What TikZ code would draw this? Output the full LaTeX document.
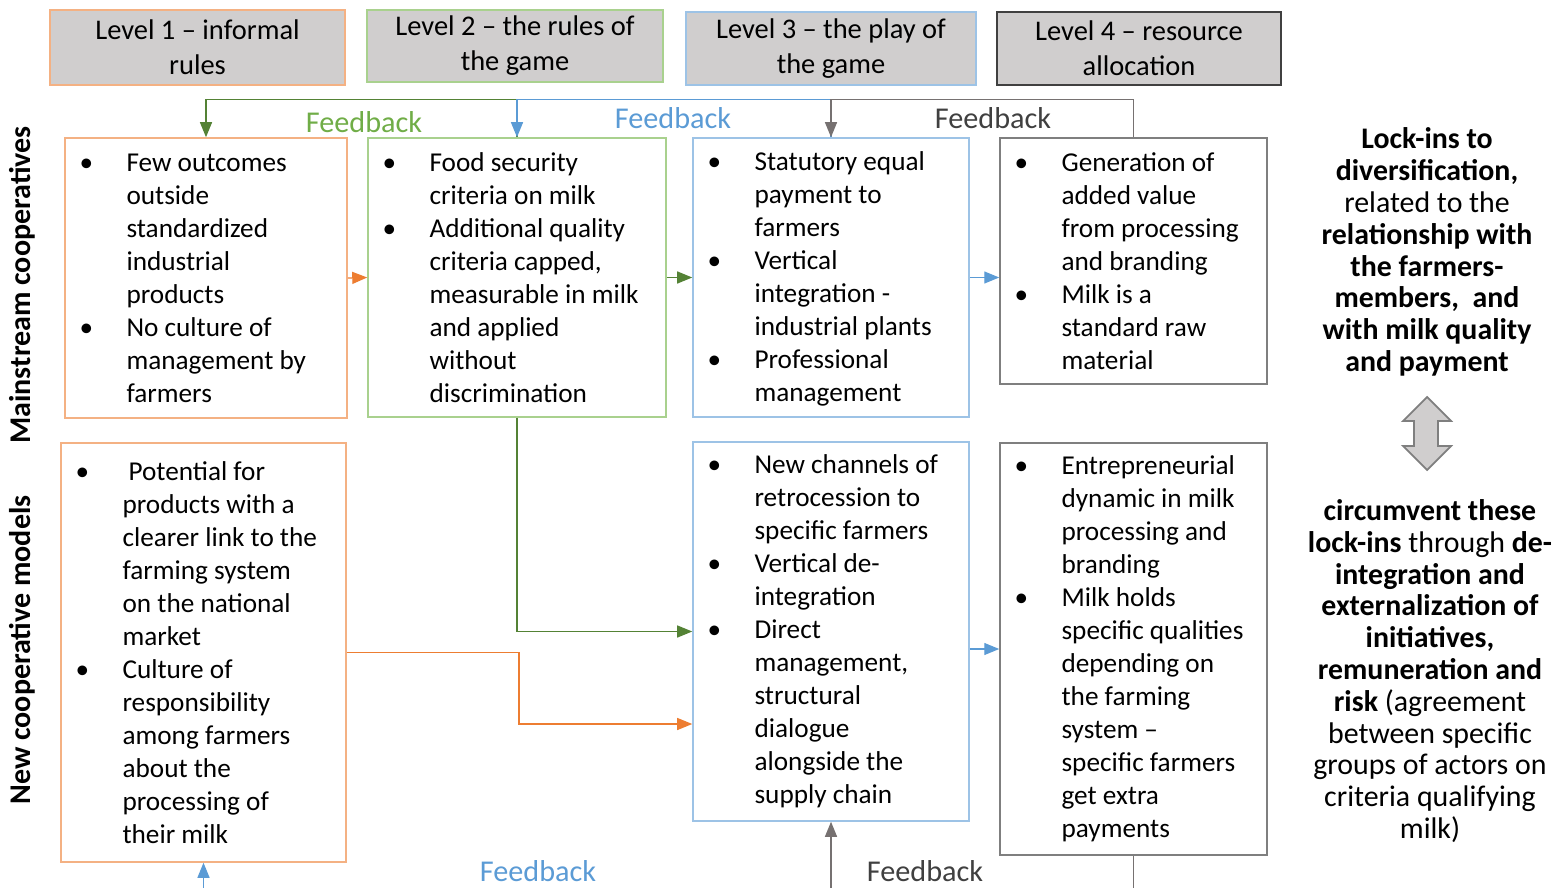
\documentclass[tikz,border=0pt]{standalone}
\usepackage{fontspec}
\setmainfont{Carlito}
\usetikzlibrary{arrows.meta,positioning}

\definecolor{orLine}{HTML}{F4B183}
\definecolor{orArrow}{HTML}{ED7D31}
\definecolor{grLine}{HTML}{A9D18E}
\definecolor{grArrow}{HTML}{548235}
\definecolor{grText}{HTML}{70AD47}
\definecolor{blLine}{HTML}{9DC3E6}
\definecolor{blArrow}{HTML}{5B9BD5}
\definecolor{gyLine}{HTML}{7F7F7F}
\definecolor{gyArrow}{HTML}{767171}
\definecolor{gyText}{HTML}{404040}
\definecolor{hdFill}{HTML}{D0CECE}

\newcommand\bp{\makebox[0.94cm][l]{\textbullet}}
\newcommand\ct{\hspace*{0.94cm}}

\tikzset{
  lvl/.style={draw, fill=hdFill, line width=0.9pt, align=center, font=\fontsize{16.2}{19.9}\selectfont},
  box/.style={draw, line width=0.9pt},
  txt/.style={anchor=west, align=left, inner sep=0pt, font=\fontsize{15.5}{18.8}\selectfont},
  link/.style={line width=0.7pt, -{Triangle[length=0.3cm,width=0.24cm]}},
  fb/.style={font=\fontsize{17.2}{20}\selectfont},
  side/.style={align=center, font=\fontsize{17}{18.1}\selectfont},
  vlab/.style={rotate=90, font=\bfseries\fontsize{17.1}{20}\selectfont}
}

\begin{document}
\begin{tikzpicture}[x=0.02cm, y=-0.02cm]
 \useasboundingbox (0,0) rectangle (1558,888);

 % levels
 \node[lvl, draw=orLine, minimum width=5.9cm, minimum height=1.5cm] (h1) at (197.5,47.5) {Level 1 – informal\\rules};
 \node[lvl, draw=grLine, minimum width=5.92cm, minimum height=1.44cm] (h2) at (515,46) {Level 2 – the rules of\\the game};
 \node[lvl, draw=blLine, minimum width=5.8cm, minimum height=1.46cm] (h3) at (831,48.5) {Level 3 – the play of\\the game};
 \node[lvl, draw=gyText, line width=1.2pt, minimum width=5.68cm, minimum height=1.46cm] (h4) at (1139,48.5) {Level 4 – resource\\allocation};

 % mainstream row
 \node[box, draw=orLine, minimum width=5.64cm, minimum height=5.6cm] (b1) at (206,278) {};
 \node[box, draw=grLine, minimum width=5.96cm, minimum height=5.58cm] (b2) at (517,277.5) {};
 \node[box, draw=blLine, minimum width=5.52cm, minimum height=5.58cm] (b3) at (831,277.5) {};
 \node[box, draw=gyLine, minimum width=5.34cm, minimum height=4.92cm] (b4) at (1133.5,261) {};

 % new cooperative row
 \node[box, draw=orLine, minimum width=5.7cm, minimum height=8.38cm] (c1) at (203.5,652.5) {};
 \node[box, draw=blLine, minimum width=5.52cm, minimum height=7.58cm] (c3) at (831,631.5) {};
 \node[box, draw=gyLine, minimum width=5.34cm, minimum height=8.24cm] (c4) at (1133.5,649) {};

 \node[txt] (t1) at ([xshift=0.3cm]b1.west) {\bp Few outcomes\\ \ct outside\\ \ct standardized\\ \ct industrial\\ \ct products\\
   \bp No culture of\\ \ct management by\\ \ct farmers};
 \node[txt] (t2) at ([xshift=0.3cm]b2.west) {\bp Food security\\ \ct criteria on milk\\
   \bp Additional quality\\ \ct criteria capped,\\ \ct measurable in milk\\ \ct and applied\\ \ct without\\ \ct discrimination};
 \node[txt] (t3) at ([xshift=0.3cm,yshift=-0.02cm]b3.west) {\bp Statutory equal\\ \ct payment to\\ \ct farmers\\
   \bp Vertical\\ \ct integration -\\ \ct industrial plants\\
   \bp Professional\\ \ct management};
 \node[txt] (t4) at ([xshift=0.3cm]b4.west) {\bp Generation of\\ \ct added value\\ \ct from processing\\ \ct and branding\\
   \bp Milk is a\\ \ct standard raw\\ \ct material};
 \node[txt] (u1) at ([xshift=0.3cm]c1.west) {\bp\hspace{0.12cm}Potential for\\ \ct products with a\\ \ct clearer link to the\\ \ct farming system\\ \ct on the national\\ \ct market\\
   \bp Culture of\\ \ct responsibility\\ \ct among farmers\\ \ct about the\\ \ct processing of\\ \ct their milk};
 \node[txt] (u3) at ([xshift=0.3cm]c3.west) {\bp New channels of\\ \ct retrocession to\\ \ct specific farmers\\
   \bp Vertical de-\\ \ct integration\\
   \bp Direct\\ \ct management,\\ \ct structural\\ \ct dialogue\\ \ct alongside the\\ \ct supply chain};
 \node[txt] (u4) at ([xshift=0.3cm]c4.west) {\bp Entrepreneurial\\ \ct dynamic in milk\\ \ct processing and\\ \ct branding\\
   \bp Milk holds\\ \ct specific qualities\\ \ct depending on\\ \ct the farming\\ \ct system –\\ \ct specific farmers\\ \ct get extra\\ \ct payments};

 % links between levels
 \draw[link, orArrow] (b1.east) -- (b2.west);
 \draw[link, grArrow] (b2.east) -- (b3.west);
 \draw[link, blArrow] (b3.east) -- (b3.east -| b4.west);
 \draw[link, blArrow] (c4.west -| c3.east) -- (c4.west);
 \draw[link, grArrow] (b2.south) |- (c3.west);
 \coordinate (bend) at (519,724);
 \draw[link, orArrow] (c1.east) -| (bend) -- (bend -| c3.west);

 % feedback loops
 \draw[link, grArrow] (b2.north) -- ++(0,-38) -| (b1.north);
 \draw[link, blArrow] (b3.north) -- ++(0,-38) -| (b2.north);
 \draw[link, gyArrow] (b4.north) -- ++(0,-38) -| (b3.north);
 \coordinate (base) at (0,888);
 \draw[link, blArrow] (c1.south |- base) -- (c1.south);
 \draw[link, gyArrow] (c3.south |- base) -- (c3.south);
 \draw[gyArrow, line width=0.7pt] (c4.south) -- (c4.south |- base);

 \node[fb, text=grText] (fg) at (364,122) {Feedback};
 \node[fb, text=blArrow] (fbl) at (673,118) {Feedback};
 \node[fb, text=gyText] (fgy) at (993,118) {Feedback};
 \node[fb, text=blArrow] (fbl2) at (538,871) {Feedback};
 \node[fb, text=gyText] (fgy2) at (925,871) {Feedback};

 % row labels
 \node[vlab] (ms) at (22,285) {Mainstream cooperatives};
 \node[vlab] (nc) at (22,650) {New cooperative models};

 % right column
 \node[side] (lk) at (1427,252) {\textbf{Lock-ins to}\\ \textbf{diversification,}\\ related to the\\ \textbf{relationship with}\\
   \textbf{the farmers-}\\ \textbf{members,\ \ and}\\ \textbf{with milk quality}\\ \textbf{and payment}};
 \draw[fill=hdFill, draw=gyLine, line width=1pt] (1427,397) -- (1451,421) -- (1438,421) -- (1438,446) -- (1451,446)
   -- (1427,470) -- (1403,446) -- (1414,446) -- (1414,421) -- (1403,421) -- cycle;
 \node[side] (cv) at (1430,671) {\textbf{circumvent these}\\ \textbf{lock-ins} through \textbf{de-}\\ \textbf{integration and}\\
   \textbf{externalization of}\\ \textbf{initiatives,}\\ \textbf{remuneration and}\\ \textbf{risk} (agreement\\
   between specific\\ groups of actors on\\ criteria qualifying\\ milk)};
\end{tikzpicture}
\end{document}
